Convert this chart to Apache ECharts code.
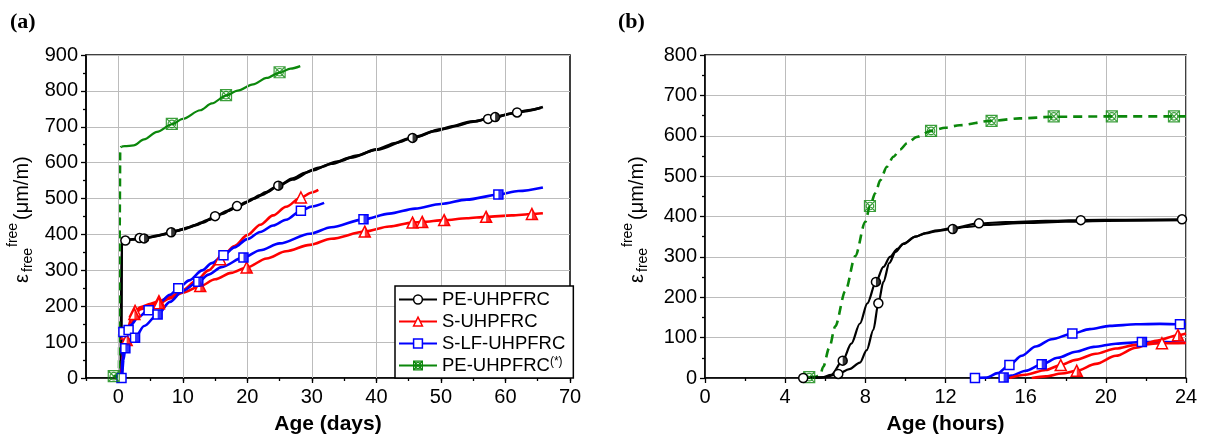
<!DOCTYPE html>
<html><head><meta charset="utf-8">
<script src="https://cdn.jsdelivr.net/npm/echarts@6/dist/echarts.min.js"></script>
<style>html,body{margin:0;padding:0;background:#fff}#c{width:1211px;height:445px}</style>
</head><body><div id="c"></div>
<script>
// ---------- Panel (a): age in days ----------
const xTicksA = [0, 10, 20, 30, 40, 50, 60, 70];
const legendNames = ['PE-UHPFRC', 'S-UHPFRC', 'S-LF-UHPFRC', 'PE-UHPFRC(*)'];

const peA1 = [[0.4,0],[0.5,378],[0.8,383],[1.5,385],[3,388],[5,393],[7,400],[9,410],[11,420],[13,433],[15,450],[17,466],[19,482],[21,500],[23,518],[25,538],[27,556],[29,572],[31,586],[34,603],[37,620],[40,637],[43,655],[46,672],[49,688],[52,702],[55,714],[58,726],[61,737],[63.5,746],[65.8,755]];
const peA2 = [[0.45,0],[0.55,382],[1,384],[2,386],[4,389],[6,396],[8,405],[10,414],[12,426],[14,441],[16,457],[18,474],[20,491],[22,509],[24.8,535],[27,553],[30,578],[33,597],[36,614],[40,636],[45.6,669],[50,693],[55,715],[58.4,727],[62,741],[65.5,753]];
const peA1Marks = [[1.1,383],[3.3,390],[15,451],[18.4,479],[57.3,722],[61.8,740]];
const peA2Marks = [[4,389],[8.2,406],[24.8,536],[45.6,669],[58.4,727]];

const sA1 = [[0.45,0],[0.7,70],[1,105],[1.3,124],[2,165],[2.6,187],[3.5,198],[5,207],[6.3,214],[8,226],[10,245],[12,270],[14,300],[15.8,331],[18,368],[20,398],[22,427],[24,453],[26,477],[28.3,503],[30,517],[31,524]];
const sA1Marks = [[1.3,124],[2.6,187],[6.3,214],[15.8,331],[28.3,503]];
const sA2 = [[0.5,0],[0.8,70],[1.3,106],[2,145],[2.5,178],[3.5,192],[5,201],[6.3,208],[8,222],[10,238],[12.7,256],[15,275],[17.5,293],[19.9,308],[23,333],[26,353],[29.7,371],[33,388],[38.2,408],[42,422],[45.6,433],[47.1,435],[50.5,440],[54,445],[57,449],[61,453],[64.1,457],[65.8,459]];
const sA2Marks = [[1.3,106],[2.5,178],[6.3,208],[12.7,256],[19.9,308],[38.2,408],[45.6,433],[47.1,435],[50.5,440],[57,449],[64.1,457]];

const bA1 = [[0.5,0],[0.65,60],[0.8,110],[1.2,130],[2,148],[3,168],[4.7,189],[6.5,212],[8,232],[9.3,250],[11,272],[13,300],[14.5,320],[16.3,342],[18,364],[20,387],[22,407],[24,425],[26,441],[28.3,466],[30,478],[31.9,488]];
const bA1Marks = [[0.5,0],[0.8,128],[1.6,134],[4.7,189],[9.3,250],[16.3,342],[28.3,466]];
const bA2 = [[0.6,0],[0.8,50],[1.1,83],[1.8,100],[2.6,112],[4,145],[6.1,177],[8,212],[10,243],[12.4,268],[14,288],[16,309],[19.4,336],[22,356],[25,375],[29.7,402],[33,420],[38,442],[42,458],[46,472],[50,485],[54,497],[58.9,511],[62,521],[65.8,531]];
const bA2Marks = [[1.1,83],[2.6,112],[6.1,177],[12.4,268],[19.4,336],[38,442],[58.9,511]];

const gADash = [[-0.7,5],[0.1,5],[0.3,640],[0.5,645]];
const gA = [[0.5,645],[1,646],[2.4,648],[4,665],[6,686],[8.3,707],[10,722],[12.7,746],[14.5,765],[16.7,787],[18.5,801],[20.9,818],[23,836],[25,851],[26.7,862],[28.2,869]];
const gAMarks = [[-0.7,5],[8.3,708],[16.7,788],[25,852]];

// ---------- Panel (b): age in hours ----------
const gB = [[5.2,2],[5.5,3],[5.75,8],[5.9,28],[6.2,75],[6.5,128],[7,215],[7.5,302],[8,387],[8.23,426],[8.5,458],[8.75,490],[9.07,523],[9.4,548],[9.73,566],[10.1,582],[10.56,597],[11.28,612],[12,620],[12.7,626],[14.3,637],[15.7,643],[17.4,647],[20.3,648],[23.4,648],[24,648]];
const gBMarks = [[5.2,2],[8.23,426],[11.28,612],[14.3,637],[17.4,648],[20.3,648],[23.4,648]];

const kB1 = [[5.0,0],[5.8,1],[6.3,8],[6.87,43],[7.3,85],[7.73,135],[8.1,185],[8.53,238],[8.9,275],[9.23,300],[9.6,320],[9.9,333],[10.5,350],[11,358],[11.6,364],[12.36,369],[13,374],[14,379],[16,384],[18,387],[20,389],[24,391]];
const kB1Marks = [[6.87,43],[8.53,238],[12.36,369]];
const kB2 = [[4.9,0],[6,2],[6.65,10],[7.2,22],[7.73,38],[8.07,69],[8.4,119],[8.65,185],[8.9,238],[9.2,285],[9.5,312],[9.9,332],[10.5,350],[11,359],[11.6,366],[12.4,372],[13.67,383],[15,386],[17,389],[18.75,391],[21,392],[23.8,393],[24,392]];
const kB2Marks = [[4.9,0],[6.65,10],[8.65,185],[13.67,383],[18.75,391],[23.8,393]];

const bB1 = [[13.47,0],[14.06,1],[14.6,12],[15.19,32],[15.8,55],[16.5,78],[17.3,96],[18.33,110],[19.2,121],[20.2,129],[21.5,133],[22.7,134],[23.7,133],[24,133]];
const bB1Marks = [[13.47,0],[15.19,32],[18.33,110],[23.7,133]];
const bB2 = [[14.72,0],[15.3,6],[16,18],[16.8,34],[17.6,50],[18.5,65],[19.4,77],[20.5,85],[21.8,89],[23,89],[24,87]];
const bB2Marks = [[14.9,1],[16.8,34],[21.8,89]];

const rB1 = [[15.2,0],[16,8],[17,20],[17.75,32],[18.5,45],[19.5,60],[20.5,73],[21.5,82],[22.8,86],[24,87]];
const rB1Marks = [[17.75,32],[22.8,86]];
const rB2 = [[16.3,0],[17,4],[17.8,11],[18.55,18],[19.5,35],[20.5,55],[21.5,75],[22.5,92],[23.6,106],[24,110]];
const rB2Marks = [[18.55,18],[23.6,106]];

// ---------- styling ----------
const FONT = "'Liberation Sans', Arial, sans-serif";
const BLACK = '#000000', RED = '#ff0000', BLUE = '#0000ff', GREEN = '#0b870b';
const GRID_GRAY = '#bcbcbc';
const GREEN_SYM = 'path://M0,0H10V10H0Z M1.6,5A3.4,3.4 0 1 0 8.4,5A3.4,3.4 0 1 0 1.6,5Z M0,0L10,10 M10,0L0,10';
const HALF = {
  circle: 'path://M0,0A5,5 0 0 1 0,10Z',
  triangle: 'path://M0,0L5,10L0,10Z',
  rect: 'rect'
};

function line(name, data, color, xi, yi, symbol, extra) {
  return Object.assign({
    type: 'line', name, data, xAxisIndex: xi, yAxisIndex: yi,
    symbol, showSymbol: false, smooth: 0.3, smoothMonotone: 'x',
    lineStyle: { color, width: 2.6 }, itemStyle: { color },
    animation: false, silent: true, z: 3
  }, extra || {});
}
function marks(data, sym, color, xi, yi, size, half) {
  const out = [{
    type: 'scatter', name: '_m', data, xAxisIndex: xi, yAxisIndex: yi,
    symbol: sym, symbolSize: size, animation: false, silent: true, z: 5,
    itemStyle: { color: '#ffffff', borderColor: color, borderWidth: 1.5, opacity: 1 }
  }];
  if (half) out.push({
    type: 'scatter', name: '_h', data, xAxisIndex: xi, yAxisIndex: yi,
    symbol: HALF[sym], symbolSize: [size / 2, size], symbolOffset: [size / 4, 0],
    animation: false, silent: true, z: 6, itemStyle: { color }
  });
  return out;
}
function greenMarks(data, xi, yi) {
  return [{
    type: 'scatter', name: '_g', data, xAxisIndex: xi, yAxisIndex: yi,
    symbol: GREEN_SYM, symbolSize: 11, animation: false, silent: true, z: 5,
    itemStyle: { color: 'rgba(255,255,255,0)', borderColor: GREEN, borderWidth: 1.2 }
  }];
}

const axisLineStyle = { show: true, onZero: false, lineStyle: { color: '#000', width: 1.5 } };
const tickStyle = { lineStyle: { color: '#000', width: 1.3 } };
const labelStyle = { color: '#000', fontSize: 20, fontFamily: FONT };
const gridLine = { show: true, lineStyle: { color: GRID_GRAY, width: 1 } };
const nameStyle = { color: '#000', fontSize: 21, fontWeight: 'bold', fontFamily: FONT };

function yTitle(cx, bottom) {
  const t = (text, x, y, size) => ({ type: 'text', x, y, style: { text, fill: '#000', fontSize: size, fontFamily: FONT, verticalAlign: 'middle', align: 'left' } });
  return {
    type: 'group', x: cx, y: bottom, rotation: Math.PI / 2,
    children: [t('ε', 0, 0, 20), t('free', 11, 6, 14), t('free', 36, -9, 14), t('(μm/m)', 63, 0, 20)]
  };
}

const series = [
  { type: 'line', name: '_vgrid', xAxisIndex: 0, yAxisIndex: 0, data: [], silent: true, z: 1, animation: false,
    markLine: { silent: true, animation: false, symbol: ['none', 'none'], label: { show: false },
      lineStyle: { color: GRID_GRAY, width: 1, type: 'solid' },
      data: xTicksA.slice(0, -1).map(v => ({ xAxis: v })) } },
  line('PE-UHPFRC', peA1, BLACK, 0, 0, 'circle'),
  line('PE-UHPFRC', peA2, BLACK, 0, 0, 'circle'),
  line('S-UHPFRC', sA1, RED, 0, 0, 'triangle'),
  line('S-UHPFRC', sA2, RED, 0, 0, 'triangle'),
  line('S-LF-UHPFRC', bA1, BLUE, 0, 0, 'rect'),
  line('S-LF-UHPFRC', bA2, BLUE, 0, 0, 'rect'),
  line('PE-UHPFRC(*)', gA, GREEN, 0, 0, GREEN_SYM, { lineStyle: { color: GREEN, width: 2.2 } }),
  line('g-dash-a', gADash, GREEN, 0, 0, GREEN_SYM, { smooth: false, lineStyle: { color: GREEN, width: 2.5, type: [8, 5] } }),
  ...marks(peA1Marks, 'circle', BLACK, 0, 0, 9, false),
  ...marks(peA2Marks, 'circle', BLACK, 0, 0, 9, true),
  ...marks(sA1Marks, 'triangle', RED, 0, 0, 11, false),
  ...marks(sA2Marks, 'triangle', RED, 0, 0, 11, true),
  ...marks(bA1Marks, 'rect', BLUE, 0, 0, 9, false),
  ...marks(bA2Marks, 'rect', BLUE, 0, 0, 9, true),
  ...greenMarks(gAMarks, 0, 0),

  line('g-b', gB, GREEN, 2, 1, GREEN_SYM, { lineStyle: { color: GREEN, width: 2.6, type: [9, 6] } }),
  line('k-b1', kB1, BLACK, 2, 1, 'circle', { lineStyle: { color: BLACK, width: 2.2 } }),
  line('k-b2', kB2, BLACK, 2, 1, 'circle', { lineStyle: { color: BLACK, width: 2.2 } }),
  line('b-b1', bB1, BLUE, 2, 1, 'rect'),
  line('b-b2', bB2, BLUE, 2, 1, 'rect'),
  line('r-b1', rB1, RED, 2, 1, 'triangle'),
  line('r-b2', rB2, RED, 2, 1, 'triangle'),
  ...greenMarks(gBMarks, 2, 1),
  ...marks(kB1Marks, 'circle', BLACK, 2, 1, 9, true),
  ...marks(kB2Marks, 'circle', BLACK, 2, 1, 9, false),
  ...marks(bB1Marks, 'rect', BLUE, 2, 1, 9, false),
  ...marks(bB2Marks, 'rect', BLUE, 2, 1, 9, true),
  ...marks(rB1Marks, 'triangle', RED, 2, 1, 11, false),
  ...marks(rB2Marks, 'triangle', RED, 2, 1, 11, true)
];

const legendItemStyles = [
  { color: '#ffffff', borderColor: BLACK, borderWidth: 1.5 },
  { color: '#ffffff', borderColor: RED, borderWidth: 1.5 },
  { color: '#ffffff', borderColor: BLUE, borderWidth: 1.5 },
  { color: 'rgba(255,255,255,0)', borderColor: GREEN, borderWidth: 1.2 }
];

const option = {
  animation: false,
  backgroundColor: '#ffffff',
  textStyle: { fontFamily: FONT },
  grid: [
    { left: 86, right: 641, top: 55, bottom: 67, show: true, borderColor: '#000', borderWidth: 1.5, backgroundColor: 'transparent' },
    { left: 705, right: 25, top: 55, bottom: 67, show: true, borderColor: '#000', borderWidth: 1.5, backgroundColor: 'transparent' }
  ],
  xAxis: [
    { type: 'value', gridIndex: 0, position: 'bottom', min: -5, max: 70, interval: 5,
      axisLine: axisLineStyle,
      axisTick: Object.assign({ show: true, length: 5, customValues: xTicksA }, tickStyle),
      axisLabel: Object.assign({ customValues: xTicksA, margin: 9 }, labelStyle),
      splitLine: { show: false },
      name: 'Age (days)', nameLocation: 'middle', nameGap: 36, nameTextStyle: nameStyle },
    { type: 'value', gridIndex: 0, position: 'bottom', min: -5, max: 70, interval: 5,
      axisLine: { show: false, onZero: false },
      axisTick: Object.assign({ show: true, length: 3 }, tickStyle),
      axisLabel: { show: false }, splitLine: { show: false } },
    { type: 'value', gridIndex: 1, position: 'bottom', min: 0, max: 24, interval: 4,
      axisLine: axisLineStyle,
      axisTick: Object.assign({ show: true, length: 5 }, tickStyle),
      minorTick: { show: true, splitNumber: 2, length: 3, lineStyle: { color: '#000', width: 1.3 } },
      axisLabel: Object.assign({ margin: 9 }, labelStyle),
      splitLine: gridLine,
      name: 'Age (hours)', nameLocation: 'middle', nameGap: 36, nameTextStyle: nameStyle }
  ],
  yAxis: [
    { type: 'value', gridIndex: 0, min: 0, max: 900, interval: 100,
      axisLine: axisLineStyle,
      axisTick: Object.assign({ show: true, length: 5 }, tickStyle),
      minorTick: { show: true, splitNumber: 2, length: 3, lineStyle: { color: '#000', width: 1.3 } },
      axisLabel: Object.assign({ margin: 8 }, labelStyle),
      splitLine: gridLine },
    { type: 'value', gridIndex: 1, min: 0, max: 800, interval: 100,
      axisLine: axisLineStyle,
      axisTick: Object.assign({ show: true, length: 5 }, tickStyle),
      minorTick: { show: true, splitNumber: 2, length: 3, lineStyle: { color: '#000', width: 1.3 } },
      axisLabel: Object.assign({ margin: 8 }, labelStyle),
      splitLine: gridLine }
  ],
  legend: {
    data: legendNames.map((n, i) => ({ name: n, itemStyle: legendItemStyles[i] })),
    orient: 'vertical', left: 395, top: 286,
    itemWidth: 38, itemHeight: 11, itemGap: 3,
    padding: [4, 8, 3, 3],
    borderColor: '#000', borderWidth: 1.5, borderRadius: 0, backgroundColor: '#ffffff',
    selectedMode: false, z: 10,
    textStyle: { color: '#000', fontSize: 18.5, fontFamily: FONT,
      rich: { s: { fontSize: 12, color: '#000', fontFamily: FONT, verticalAlign: 'top' } } },
    formatter: n => n === 'PE-UHPFRC(*)' ? 'PE-UHPFRC{s|(*)}' : n
  },
  graphic: [
    { type: 'text', left: 10, top: 11, style: { text: '(a)', fill: '#000', fontSize: 22, fontWeight: 'bold', fontFamily: "'Liberation Serif', 'Times New Roman', serif" } },
    { type: 'text', left: 618, top: 11, style: { text: '(b)', fill: '#000', fontSize: 22, fontWeight: 'bold', fontFamily: "'Liberation Serif', 'Times New Roman', serif" } },
    yTitle(22, 283),
    yTitle(637, 283)
  ],
  series
};

const chart = echarts.init(document.getElementById('c'), null, { renderer: 'canvas' });
chart.setOption(option);
</script>
</body></html>
